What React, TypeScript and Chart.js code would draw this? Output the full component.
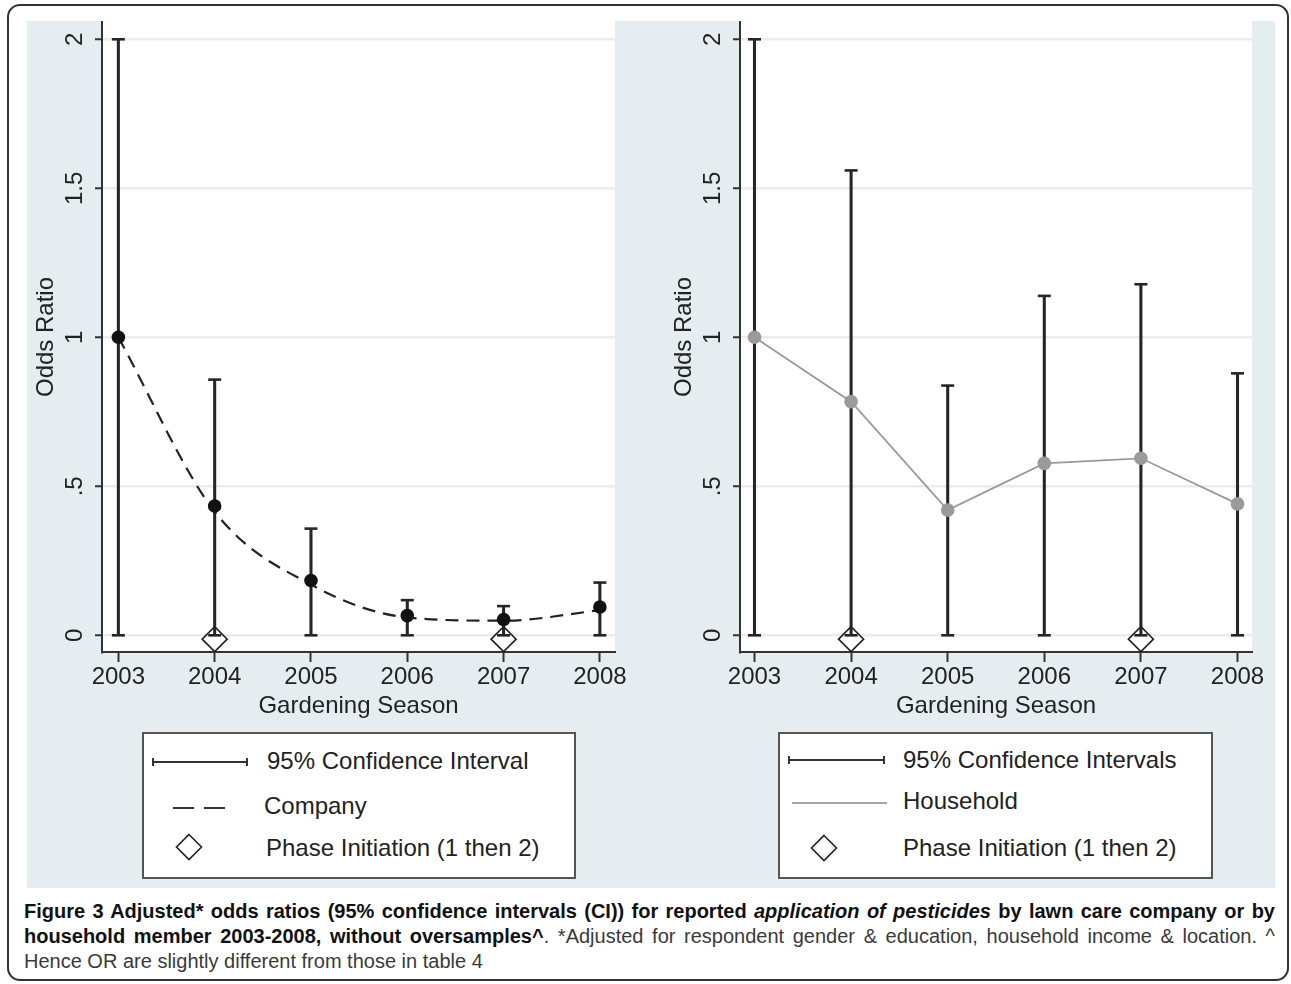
import React, { useEffect, useRef } from "react";
import { Chart, registerables } from "chart.js";

Chart.register(...registerables);

// ---------------- data ----------------
const years = [2003, 2004, 2005, 2006, 2007, 2008];
const yTicks = [0, 0.5, 1, 1.5, 2];
const yTickLabels = ["0", ".5", "1", "1.5", "2"];

// Company (left panel)
const companyOR = [1.0, 0.434, 0.184, 0.066, 0.053, 0.095];
const companyFit = [1.0, 0.415, 0.17, 0.06, 0.049, 0.084];
const companyLow = [0, 0, 0, 0, 0, 0];
const companyHigh = [2.0, 0.858, 0.358, 0.118, 0.098, 0.177];

// Household (right panel)
const householdOR = [1.0, 0.784, 0.42, 0.577, 0.594, 0.441];
const householdLow = [0, 0, 0, 0, 0, 0];
const householdHigh = [2.0, 1.56, 0.838, 1.139, 1.178, 0.879];

// Phase initiation markers
const phaseYears = [2004, 2007];
const phaseMarkerY = -0.013;

const yMin = -0.056;
const yMax = 2.058;

// ---------------- styling ----------------
const FONT = "'Liberation Sans', Arial, Helvetica, sans-serif";
const INK = "#222";
const CANVAS_H = 700;
const PANEL_TOP = 21;

type Spec = {
  left: number;
  width: number;
  yAxisWidth: number;
  rightPad: number;
  xMin: number;
  xMax: number;
  kind: "company" | "household";
};

const leftSpec: Spec = { left: 27, width: 613, yAxisWidth: 75, rightPad: 25, xMin: 2002.83, xMax: 2008.157, kind: "company" };
const rightSpec: Spec = { left: 665, width: 610, yAxisWidth: 75, rightPad: 23, xMin: 2002.85, xMax: 2008.15, kind: "household" };

const plotBg = {
  id: "plotBg",
  beforeDraw(chart: any) {
    const { ctx, chartArea } = chart;
    ctx.save();
    ctx.fillStyle = "#ffffff";
    ctx.fillRect(chartArea.left, 0, chartArea.right - chartArea.left, chartArea.bottom);
    ctx.restore();
  },
};

function buildConfig(s: Spec): any {
  const isCo = s.kind === "company";
  const est = isCo ? companyOR : householdOR;
  const low = isCo ? companyLow : householdLow;
  const high = isCo ? companyHigh : householdHigh;

  const ciBars = years.map((y, i) => ({ x: y, y: [low[i], high[i]] }));
  const caps = years.flatMap((y, i) => [
    { x: y, y: high[i] },
    { x: y, y: low[i] },
  ]);
  const diamonds = phaseYears.map((y) => ({ x: y, y: phaseMarkerY }));

  const datasets: any[] = [
    {
      type: "bar",
      data: ciBars,
      barThickness: 2.4,
      backgroundColor: "#262626",
      borderWidth: 0,
      order: 6,
    },
    {
      type: "scatter",
      data: caps,
      pointStyle: "line",
      pointRadius: 6.5,
      borderColor: "#262626",
      borderWidth: 2.6,
      order: 5,
    },
  ];

  if (isCo) {
    datasets.push(
      {
        type: "line",
        data: years.map((y, i) => ({ x: y, y: companyFit[i] })),
        borderColor: "#222",
        borderWidth: 2.2,
        borderDash: [13, 8],
        pointRadius: 0,
        fill: false,
        cubicInterpolationMode: "monotone",
        order: 4,
      },
      {
        type: "scatter",
        data: years.map((y, i) => ({ x: y, y: est[i] })),
        pointRadius: 6.8,
        backgroundColor: "#111",
        borderColor: "#111",
        borderWidth: 0,
        order: 3,
      }
    );
  } else {
    datasets.push({
      type: "line",
      data: years.map((y, i) => ({ x: y, y: est[i] })),
      borderColor: "#9a9a9a",
      borderWidth: 1.8,
      tension: 0,
      pointRadius: 6.8,
      pointBackgroundColor: "#9a9a9a",
      pointBorderColor: "#9a9a9a",
      pointBorderWidth: 0,
      fill: false,
      order: 3,
    });
  }

  datasets.push({
    type: "scatter",
    data: diamonds,
    pointStyle: "rectRot",
    pointRadius: 12.5,
    backgroundColor: "rgba(0,0,0,0)",
    borderColor: "#222",
    borderWidth: 1.6,
    clip: false,
    order: 1,
  });

  const font = { family: FONT, size: 24 };

  return {
    type: "scatter",
    data: { datasets },
    plugins: [plotBg],
    options: {
      animation: false,
      responsive: false,
      devicePixelRatio: 1,
      events: [],
      layout: { autoPadding: false, padding: { left: 0, top: 1, right: s.rightPad, bottom: 0 } },
      plugins: { legend: { display: false }, tooltip: { enabled: false } },
      scales: {
        x: {
          type: "linear",
          min: s.xMin,
          max: s.xMax,
          offset: false,
          afterBuildTicks: (sc: any) => {
            sc.ticks = years.map((v) => ({ value: v }));
          },
          afterFit: (sc: any) => {
            sc.height = 69;
            sc.paddingLeft = 0;
            sc.paddingRight = 0;
          },
          ticks: {
            autoSkip: false,
            maxRotation: 0,
            minRotation: 0,
            padding: 1,
            color: INK,
            font,
            callback: (v: any) => String(v),
          },
          grid: {
            offset: false,
            drawOnChartArea: false,
            drawTicks: true,
            tickLength: 10,
            tickColor: "#333",
            tickWidth: 2,
          },
          border: { display: true, color: "#333", width: 2 },
          title: { display: true, text: "Gardening Season", color: INK, font, padding: 0 },
        },
        y: {
          type: "linear",
          min: yMin,
          max: yMax,
          afterBuildTicks: (sc: any) => {
            sc.ticks = yTicks.map((v) => ({ value: v }));
          },
          afterFit: (sc: any) => {
            sc.width = s.yAxisWidth;
            sc.paddingTop = 0;
            sc.paddingBottom = 0;
          },
          ticks: {
            minRotation: 90,
            maxRotation: 90,
            crossAlign: "center",
            padding: 3,
            color: INK,
            font,
            callback: (v: any) => {
              const k = yTicks.indexOf(Number(v));
              return k >= 0 ? yTickLabels[k] : "";
            },
          },
          grid: {
            color: "#ececec",
            lineWidth: 2.5,
            drawTicks: true,
            tickLength: 7,
            tickColor: "#333",
            tickWidth: 2,
          },
          border: { display: true, color: "#333", width: 2 },
          title: { display: true, text: "Odds Ratio", color: INK, font, padding: { top: 5, bottom: 0 } },
        },
      },
    },
  };
}

function ChartPanel({ spec }: { spec: Spec }) {
  const ref = useRef<HTMLCanvasElement>(null);
  useEffect(() => {
    const chart = new Chart(ref.current as HTMLCanvasElement, buildConfig(spec));
    return () => chart.destroy();
  }, [spec]);
  return (
    <canvas
      ref={ref}
      width={spec.width}
      height={CANVAS_H}
      style={{ position: "absolute", left: spec.left, top: PANEL_TOP, width: spec.width, height: CANVAS_H }}
    />
  );
}

// ---------------- legend helpers ----------------
const legendText: React.CSSProperties = {
  position: "absolute",
  fontFamily: FONT,
  fontSize: 24,
  lineHeight: "28px",
  color: INK,
  whiteSpace: "nowrap",
};

function LText({ x, cy, children }: { x: number; cy: number; children: React.ReactNode }) {
  return <div style={{ ...legendText, left: x, top: cy - 14 }}>{children}</div>;
}

function CISym({ x1, x2, y }: { x1: number; x2: number; y: number }) {
  const w = x2 - x1;
  return (
    <svg style={{ position: "absolute", left: x1, top: y - 5 }} width={w} height={10}>
      <line x1={0} y1={5} x2={w} y2={5} stroke="#333" strokeWidth={2} />
      <line x1={1} y1={1} x2={1} y2={9} stroke="#333" strokeWidth={2} />
      <line x1={w - 1} y1={1} x2={w - 1} y2={9} stroke="#333" strokeWidth={2} />
    </svg>
  );
}

function Diamond({ cx, cy }: { cx: number; cy: number }) {
  const r = 12.5;
  return (
    <svg style={{ position: "absolute", left: cx - 14, top: cy - 14 }} width={28} height={28}>
      <polygon
        points={`${14},${14 - r} ${14 + r},${14} ${14},${14 + r} ${14 - r},${14}`}
        fill="none"
        stroke="#222"
        strokeWidth={1.6}
      />
    </svg>
  );
}

function LegendBox({ left, width }: { left: number; width: number }) {
  return (
    <div
      style={{
        position: "absolute",
        left,
        top: 732,
        width,
        height: 147,
        boxSizing: "border-box",
        border: "2px solid #555",
        background: "#fff",
      }}
    />
  );
}

const capBold: React.CSSProperties = { fontWeight: 700, color: "#111" };

export default function App() {
  return (
    <div style={{ position: "absolute", left: 0, top: 0, width: 1291, height: 984, background: "#fff", overflow: "hidden" }}>
      {/* outer frame */}
      <div
        style={{
          position: "absolute",
          left: 7,
          top: 4,
          width: 1282,
          height: 977,
          boxSizing: "border-box",
          border: "2px solid #333",
          borderRadius: 13,
        }}
      />
      {/* panel background */}
      <div style={{ position: "absolute", left: 27, top: PANEL_TOP, width: 1248, height: 867, background: "#e6edf0" }} />

      <ChartPanel spec={leftSpec} />
      <ChartPanel spec={rightSpec} />

      {/* left legend */}
      <LegendBox left={142} width={434} />
      <CISym x1={152} x2={248} y={762} />
      <LText x={267} cy={761}>95% Confidence Interval</LText>
      <svg style={{ position: "absolute", left: 172, top: 803 }} width={56} height={10}>
        <line x1={1} y1={5} x2={22} y2={5} stroke="#333" strokeWidth={2} />
        <line x1={32} y1={5} x2={53} y2={5} stroke="#333" strokeWidth={2} />
      </svg>
      <LText x={264} cy={806}>Company</LText>
      <Diamond cx={189} cy={847} />
      <LText x={266} cy={848}>Phase Initiation (1 then 2)</LText>

      {/* right legend */}
      <LegendBox left={778} width={435} />
      <CISym x1={788} x2={885} y={760} />
      <LText x={903} cy={760}>95% Confidence Intervals</LText>
      <svg style={{ position: "absolute", left: 790, top: 798 }} width={100} height={10}>
        <line x1={2} y1={5} x2={97} y2={5} stroke="#8a8a8a" strokeWidth={1.5} />
      </svg>
      <LText x={903} cy={801}>Household</LText>
      <Diamond cx={824} cy={848} />
      <LText x={903} cy={848}>Phase Initiation (1 then 2)</LText>

      {/* caption */}
      <div
        style={{
          position: "absolute",
          left: 24,
          top: 899,
          width: 1251,
          fontFamily: FONT,
          fontSize: 20,
          lineHeight: "25px",
          color: "#3a3a3a",
        }}
      >
        <div style={{ textAlign: "justify", textAlignLast: "justify" as any, whiteSpace: "nowrap" }}>
          <span style={capBold}>
            Figure 3 Adjusted* odds ratios (95% confidence intervals (CI)) for reported <i>application of pesticides</i> by lawn care company or by
          </span>
        </div>
        <div style={{ textAlign: "justify", textAlignLast: "justify" as any, whiteSpace: "nowrap" }}>
          <span style={capBold}>household member 2003-2008, without oversamples^</span>. *Adjusted for respondent gender &amp; education, household income &amp; location. ^
        </div>
        <div style={{ whiteSpace: "nowrap" }}>Hence OR are slightly different from those in table 4</div>
      </div>
    </div>
  );
}
